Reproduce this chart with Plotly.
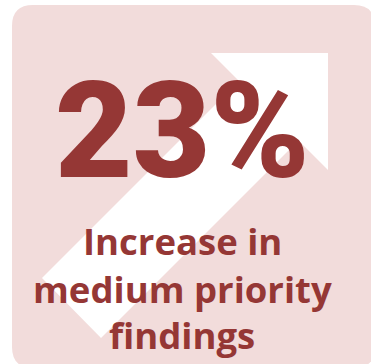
import plotly.graph_objects as go

# Headline figure and its caption
change_pct = [23]
caption_lines = ["Increase in", "medium priority", "findings"]

W, H = 371, 364
PANEL_FILL = "#f2dcdb"
TEXT_RED = "#953735"
HEAD_FONT = "Roboto, Open Sans, DejaVu Sans, sans-serif"
FONT = "Open Sans, Noto Sans, DejaVu Sans, sans-serif"


def rounded_rect(x0, y0, x1, y1, r):
    return (
        f"M {x0 + r},{y0} L {x1 - r},{y0} Q {x1},{y0} {x1},{y0 + r} "
        f"L {x1},{y1 - r} Q {x1},{y1} {x1 - r},{y1} "
        f"L {x0 + r},{y1} Q {x0},{y1} {x0},{y1 - r} "
        f"L {x0},{y0 + r} Q {x0},{y0} {x0 + r},{y0} Z"
    )


# Up-right arrow: square-cornered head plus a 45-degree shaft
arrow_pts = [(211, 53), (328, 53), (328, 170), (298.5, 140.5),
             (101, 338), (42, 278), (239, 81)]
arrow_path = "M " + " L ".join(f"{x},{y}" for x, y in arrow_pts) + " Z"

fig = go.Figure()
fig.add_trace(go.Scatter(x=[0, W], y=[0, H], mode="markers",
                         marker=dict(opacity=0), hoverinfo="skip",
                         showlegend=False))

fig.add_shape(type="path", path=rounded_rect(12, 5, 375, 368, 21),
              xref="x", yref="y", fillcolor=PANEL_FILL,
              line=dict(width=0), layer="below")
fig.add_shape(type="path", path=arrow_path, xref="x", yref="y",
              fillcolor="white", line=dict(width=0), layer="below")

fig.add_annotation(x=182, y=131, xref="x", yref="y",
                   text=f"{change_pct[0]}%", showarrow=False,
                   xanchor="center", yanchor="middle",
                   font=dict(family=HEAD_FONT, size=134, weight=900,
                             color=TEXT_RED))

line_centres = [241, 289, 335]
for txt, yc in zip(caption_lines, line_centres):
    fig.add_annotation(x=182, y=yc, xref="x", yref="y",
                       text=f"<b>{txt}</b>", showarrow=False,
                       xanchor="center", yanchor="middle",
                       font=dict(family=FONT, size=36.5, color=TEXT_RED))

fig.update_xaxes(range=[0, W], visible=False, fixedrange=True)
fig.update_yaxes(range=[H, 0], visible=False, fixedrange=True)
fig.update_layout(width=W, height=H, margin=dict(l=0, r=0, t=0, b=0),
                  paper_bgcolor="white", plot_bgcolor="white",
                  showlegend=False)

fig.write_html("out.html", config={"displayModeBar": False})
